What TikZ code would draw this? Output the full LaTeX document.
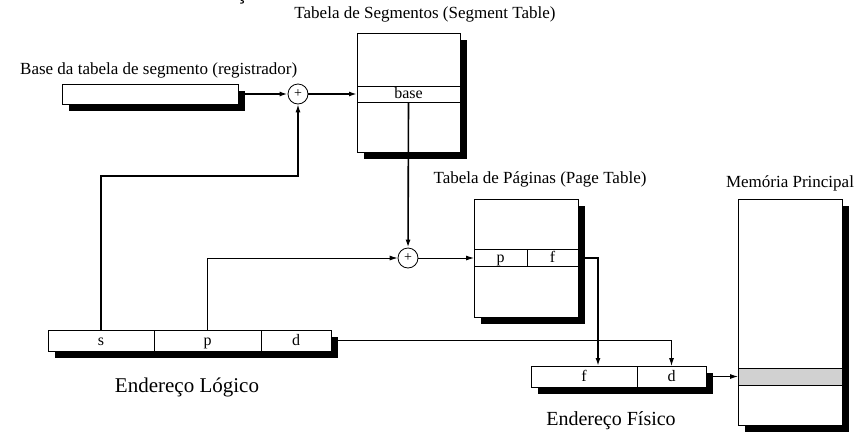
\documentclass[tikz,border=0pt]{standalone}
\usepackage{fontspec}
\setmainfont{Liberation Serif}
\setsansfont{Liberation Sans}
\usetikzlibrary{positioning,arrows.meta,shadows}
\tikzset{
  >={Latex[length=8pt,width=5pt]},
  caixa/.style={draw, fill=white, line width=0.8pt, inner sep=0pt, outer sep=0pt,
    drop shadow={shadow xshift=7pt, shadow yshift=-7pt, opacity=1, fill=black}},
  campo/.style={draw, line width=0.8pt, inner sep=0pt, outer sep=0pt, text height=12pt, text depth=3pt,
    font=\fontsize{16}{18}\selectfont},
  soma/.style={draw, circle, fill=white, line width=0.8pt, minimum size=20pt, inner sep=0pt, font=\fontsize{14}{16}\selectfont},
  titulo/.style={font=\fontsize{17}{20}\selectfont, inner sep=0pt},
  legenda/.style={font=\fontsize{20}{24}\selectfont, inner sep=0pt},
  grossa/.style={->, line width=1.6pt},
  fina/.style={->, line width=0.9pt},
}
\begin{document}
\begin{tikzpicture}[x=1pt, y=-1pt]
  \useasboundingbox (0,0) rectangle (867,432);
  \node[font=\sffamily\fontsize{22}{26}\selectfont, anchor=base west, inner sep=0pt] (topo) at (22,-1) {Conversão de Endereços};

  \node[titulo, anchor=base west] (regtxt) at (20,74) {Base da tabela de segmento (registrador)};
  \node[caixa, minimum width=176pt, minimum height=20pt] (reg) at (150,94) {};
  \node[soma] (soma1) at (298,94) {+};

  \node[titulo, anchor=base] (segtxt) at (425,18) {Tabela de Segmentos (Segment Table)};
  \node[caixa, minimum width=103pt, minimum height=119pt] (segtab) at (408.5,92.5) {};
  \node[campo, minimum width=103pt, minimum height=16pt] (base) at (408.5,94) {base};
  \node[soma] (soma2) at (408,258) {+};

  \node[titulo, anchor=base] (pgtxt) at (540,183) {Tabela de Páginas (Page Table)};
  \node[caixa, minimum width=104pt, minimum height=118pt] (pgtab) at (526,258) {};
  \node[campo, minimum width=53pt, minimum height=17pt, anchor=west] (pgp) at (pgtab.west) {p};
  \node[campo, minimum width=51pt, minimum height=17pt, right=0pt of pgp] (pgf) {f};

  \node[caixa, minimum width=283pt, minimum height=21pt] (la) at (189.5,340.5) {};
  \node[campo, minimum width=106pt, minimum height=21pt, anchor=west] (ls) at (la.west) {s};
  \node[campo, minimum width=107pt, minimum height=21pt, right=0pt of ls] (lp) {p};
  \node[campo, minimum width=70pt, minimum height=21pt, right=0pt of lp] (ld) {d};
  \node[legenda, font=\fontsize{21}{24}\selectfont, anchor=base] (latxt) at (187,392) {Endereço Lógico};

  \node[caixa, minimum width=175pt, minimum height=21pt] (fa) at (618.5,376.5) {};
  \node[campo, minimum width=106pt, minimum height=21pt, anchor=west] (ff) at (fa.west) {f};
  \node[campo, minimum width=69pt, minimum height=21pt, right=0pt of ff] (fd) {d};
  \node[legenda, anchor=base] (fatxt) at (611,425) {Endereço Físico};

  \node[titulo, anchor=base] (memtxt) at (790,187) {Memória Principal};
  \node[caixa, minimum width=104pt, minimum height=226pt] (mem) at (790,312) {};
  \node[campo, fill=black!18, minimum width=104pt, minimum height=17pt] (memrow) at (790,376.5) {};

  \coordinate (dobra) at (298,176);
  \draw[grossa] ([xshift=6pt]reg.east) -- (soma1);
  \draw[grossa] (soma1) -- (base.west);
  \draw[grossa] (base.south) -- (soma2);
  \draw[->, line width=1.2pt] (ls.north) |- (dobra) -- (soma1);
  \draw[fina] (lp.north) |- (soma2);
  \draw[fina] (soma2) -- (pgp.west);
  \draw[grossa] ([xshift=7pt]pgf.east) -| ([xshift=14pt]ff.north);
  \draw[fina] ([xshift=7pt]ld.east) -| (fd.north);
  \draw[fina] ([xshift=7pt]fa.east) -- (memrow.west);
\end{tikzpicture}
\end{document}
